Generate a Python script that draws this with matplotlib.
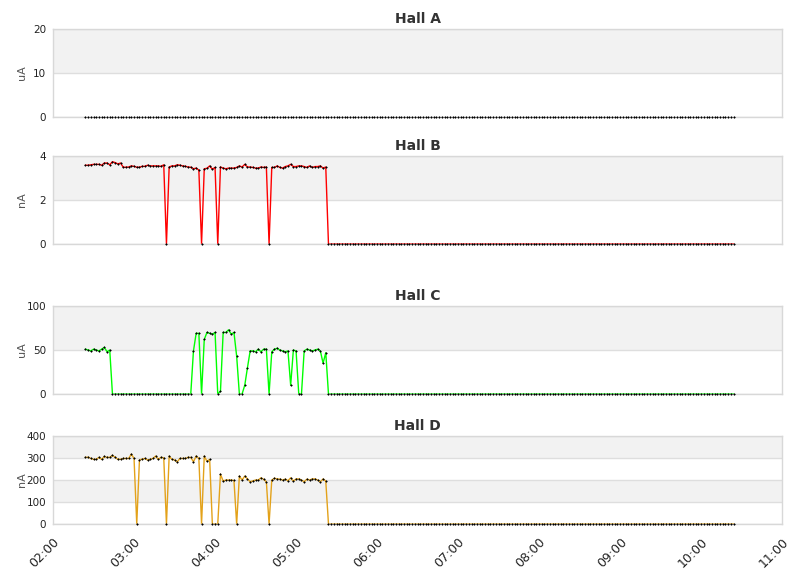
import matplotlib
matplotlib.use("Agg")
import matplotlib.pyplot as plt
import matplotlib.dates as mdates
import pandas as pd

# 2-minute samples, 02:24 -> 10:24
start_time = "2000-01-01 02:24"
n_samples = 241
n_tail = 151   # zeros after the beam went off (05:24 on)

hall_b_active = [
    3.58, 3.58, 3.60, 3.62, 3.62, 3.62, 3.58, 3.68, 3.68, 3.60,
    3.74, 3.70, 3.64, 3.68, 3.49, 3.49, 3.50, 3.55, 3.53, 3.49,
    3.49, 3.53, 3.53, 3.58, 3.55, 3.55, 3.55, 3.55, 3.53, 3.60,
    0.0,
    3.50, 3.55, 3.55, 3.60, 3.58, 3.55, 3.53, 3.50, 3.49, 3.42, 3.45, 3.36,
    0.0,
    3.42, 3.44, 3.55, 3.40, 3.48,
    0.0,
    3.50, 3.45, 3.42, 3.45, 3.45, 3.45, 3.48, 3.55, 3.50, 3.62,
    3.50, 3.50, 3.48, 3.45, 3.45, 3.50, 3.48, 3.50,
    0.0,
    3.48, 3.48, 3.55, 3.48, 3.45, 3.52, 3.55, 3.62, 3.52, 3.52,
    3.55, 3.55, 3.52, 3.48, 3.55, 3.48, 3.52, 3.52, 3.55, 3.45, 3.50,
]

hall_c_active = [
    51, 50, 49, 51, 50, 49, 51, 53, 48, 50,
    0, 0, 0, 0, 0, 0, 0, 0, 0, 0,
    0, 0, 0, 0, 0, 0, 0, 0, 0, 0,
    0, 0, 0, 0, 0, 0, 0, 0, 0, 0,
    49, 69, 69, 0, 62, 70, 69, 68, 70, 0,
    3, 70, 70, 73, 68, 70, 43, 0, 0, 10,
    30, 49, 49, 48, 51, 48, 51, 51,
    0,
    48, 51, 52, 50, 49, 48, 49, 10, 50, 49,
    0, 0, 49, 51, 50, 49, 50, 51, 49, 35, 47,
]

hall_d_active = [
    303, 304, 298, 294, 294, 303, 294, 307, 303, 303,
    312, 303, 294, 294, 298, 298, 298, 318, 298,
    0,
    291, 295, 298, 291, 294, 298, 309, 294, 303, 301,
    0,
    309, 294, 291, 283, 298, 298, 298, 303, 303, 283, 309, 298,
    0,
    309, 285, 294,
    0, 0, 0,
    227, 195, 200, 200, 200, 198,
    0,
    218, 200, 218, 205, 192, 196, 200, 200, 210, 203, 192,
    0,
    200, 208, 205, 204, 200, 204, 197, 210, 195, 205,
    205, 200, 192, 204, 200, 205, 205, 200, 192, 205, 195,
]

hall_a = [0.0] * n_samples
hall_b = hall_b_active + [0.0] * n_tail
hall_c = hall_c_active + [0.0] * n_tail
hall_d = hall_d_active + [0.0] * n_tail

times = pd.date_range(start_time, periods=n_samples, freq="2min")

panels = [
    ("Hall A", "uA", hall_a, None, [0, 10, 20]),
    ("Hall B", "nA", hall_b, "#ff0000", [0, 2, 4]),
    ("Hall C", "uA", hall_c, "#00ff00", [0, 50, 100]),
    ("Hall D", "nA", hall_d, "#e3a21a", [0, 100, 200, 300, 400]),
]
bottoms = [0.7976, 0.5779, 0.3183, 0.0934]

fig = plt.figure(figsize=(8.11, 5.78), dpi=100)
axes = []
for i, ((title, unit, vals, color, ticks), b) in enumerate(zip(panels, bottoms)):
    ax = fig.add_axes([0.0654, b, 0.899, 0.1522])
    axes.append(ax)
    # alternating bands, top band grey
    for k in range(len(ticks) - 1, 0, -2):
        ax.axhspan(ticks[k - 1], ticks[k], color="#f2f2f2", zorder=0, lw=0)
    for t in ticks:
        ax.axhline(t, color="#dedede", lw=1, zorder=0.5)
    if color is not None:
        ax.plot(times, vals, color=color, lw=1, zorder=2)
    ax.plot(times, vals, ls="none", marker="+", ms=1.7, mew=0.8, color="black",
            zorder=4, clip_on=False)
    ax.set_ylim(ticks[0], ticks[-1])
    ax.set_yticks(ticks)
    ax.set_xlim(pd.Timestamp("2000-01-01 02:00"), pd.Timestamp("2000-01-01 11:00"))
    ax.set_title(title, fontsize=10, fontweight="bold", color="#333333", pad=4)
    ax.set_ylabel(unit, fontsize=8, color="#555555")
    ax.yaxis.set_label_coords(-0.036, 0.5)
    ax.tick_params(axis="y", length=0, labelsize=7.5, labelcolor="#222222", pad=5)
    ax.tick_params(axis="x", length=0)
    for s in ax.spines.values():
        s.set_color("#d8d8d8")
        s.set_linewidth(1)
        s.set_zorder(3)
    ax.xaxis.set_major_locator(mdates.HourLocator())
    ax.xaxis.set_major_formatter(mdates.DateFormatter("%H:%M"))
    if i < len(panels) - 1:
        ax.tick_params(axis="x", labelbottom=False)

axes[-1].tick_params(axis="x", labelbottom=True, labelsize=9, labelcolor="#222222", pad=8)
for lbl in axes[-1].get_xticklabels():
    lbl.set_rotation(45)
    lbl.set_ha("right")
    lbl.set_rotation_mode("anchor")

fig.savefig("out.png", dpi=100)
